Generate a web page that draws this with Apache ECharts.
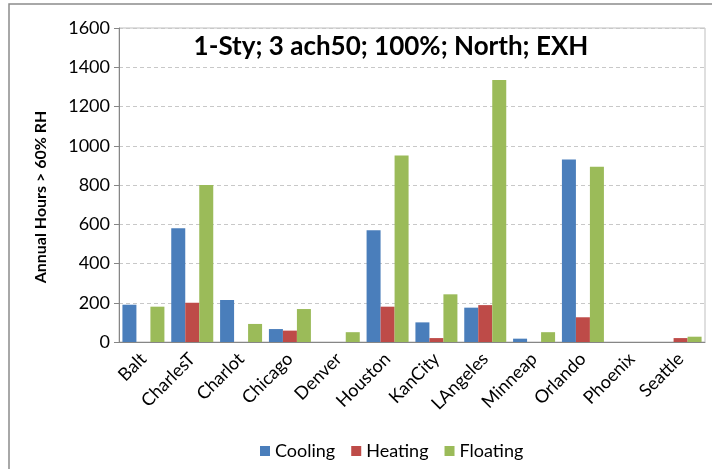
<!DOCTYPE html>
<html>
<head>
<meta charset="utf-8">
<script src="https://cdn.jsdelivr.net/npm/echarts@6/dist/echarts.min.js"></script>
<style>
    html, body { margin: 0; padding: 0; background: #fff; }
    #chart { width: 712px; height: 469px; }
</style>
</head>
<body>
<div id="chart"></div>
<script>
// values
var cities = ['Balt', 'CharlesT', 'Charlot', 'Chicago', 'Denver', 'Houston', 'KanCity', 'LAngeles', 'Minneap', 'Orlando', 'Phoenix', 'Seattle'];
var cooling = [190, 580, 214, 66, 0, 570, 100, 175, 17, 930, 0, 0];
var heating = [0, 200, 0, 58, 0, 180, 20, 188, 0, 126, 0, 20];
var floating = [180, 800, 92, 168, 50, 950, 243, 1335, 50, 893, 0, 27];
var yTicks = [0, 200, 400, 600, 800, 1000, 1200, 1400, 1600];

var font = 'Lato, "Open Sans", sans-serif';
var chart = echarts.init(document.getElementById('chart'));

function bar(name, data, color) {
    return {
        name: name,
        type: 'bar',
        data: data,
        barWidth: 14,
        barGap: '0%',
        itemStyle: { color: color },
        emphasis: { disabled: true }
    };
}

chart.setOption({
    animation: false,
    textStyle: { fontFamily: font },
    title: {
        text: '1-Sty; 3 ach50; 100%; North; EXH',
        left: 386,
        textAlign: 'center',
        top: 29,
        textStyle: { fontSize: 26, fontWeight: 'bold', color: '#000', fontFamily: font }
    },
    graphic: [{
        type: 'rect',
        shape: { x: 9, y: 4, width: 760, height: 520 },
        style: { fill: 'none', stroke: '#8c8c8c', lineWidth: 1.5 },
        silent: true
    }],
    grid: {
        left: 119, right: 7, top: 28, bottom: 127,
        show: true, borderColor: '#bfbfbf', borderWidth: 1
    },
    legend: {
        data: ['Cooling', 'Heating', 'Floating'],
        bottom: 4,
        left: 255,
        itemWidth: 10,
        itemHeight: 10,
        itemGap: 16,
        icon: 'rect',
        textStyle: { fontSize: 18, color: '#000', fontFamily: font }
    },
    xAxis: {
        type: 'category',
        data: cities,
        axisLine: { lineStyle: { color: '#868686' } },
        axisTick: { length: 5, lineStyle: { color: '#868686' } },
        axisLabel: { rotate: 45, fontSize: 18, color: '#000', margin: 14, interval: 0 }
    },
    yAxis: {
        type: 'value',
        min: yTicks[0],
        max: yTicks[yTicks.length - 1],
        interval: yTicks[1] - yTicks[0],
        name: 'Annual Hours > 60% RH',
        nameLocation: 'middle',
        nameGap: 70,
        nameTextStyle: { fontSize: 16, fontWeight: 'bold', color: '#000', padding: [0, 24, 0, 0] },
        axisLine: { show: true, lineStyle: { color: '#868686' } },
        axisTick: { show: true, length: 5, lineStyle: { color: '#868686' } },
        axisLabel: { fontSize: 18, color: '#000', margin: 9, formatter: function (v) { return String(v); } },
        splitLine: { lineStyle: { color: '#c8c8c8', type: [4, 3] } }
    },
    series: [
        bar('Cooling', cooling, '#4a7ebb'),
        bar('Heating', heating, '#be4b48'),
        bar('Floating', floating, '#9bbb59')
    ]
});
</script>
</body>
</html>
